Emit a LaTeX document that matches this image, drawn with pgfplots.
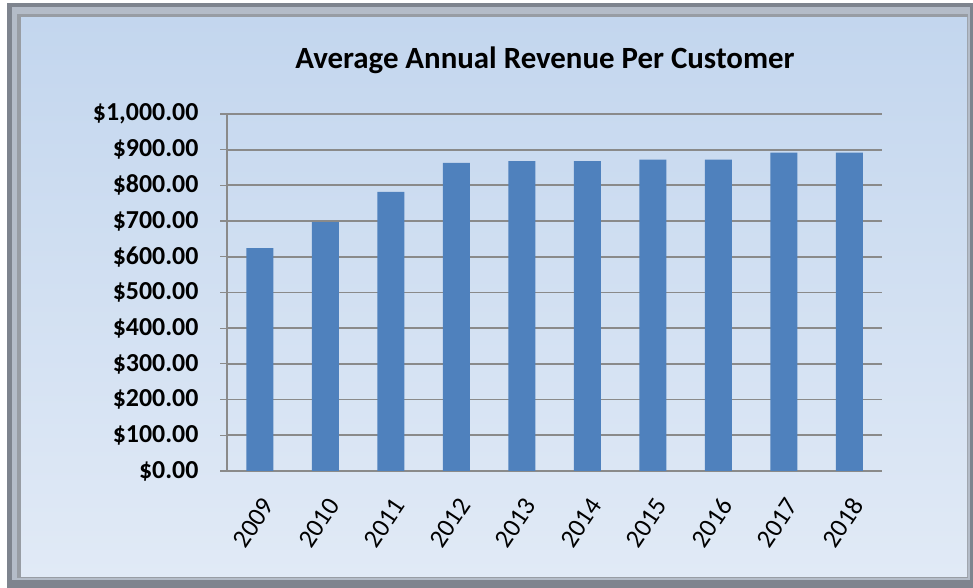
\documentclass[border=0pt]{standalone}
\usepackage{pgfplots}
\pgfplotsset{compat=1.18}
\usepackage{fontspec}
\setmainfont{Carlito}
\definecolor{barblue}{HTML}{4F81BD}
\definecolor{gridgray}{HTML}{8A8A8A}
\definecolor{bgtop}{HTML}{C3D6EE}
\definecolor{bgbot}{HTML}{E1EAF6}
\definecolor{frameout}{HTML}{7E848E}
\definecolor{framein}{HTML}{B4BCC8}

\pgfplotstableread{
x year value
0 2009 624
1 2010 697
2 2011 782
3 2012 863
4 2013 868
5 2014 868
6 2015 872
7 2016 872
8 2017 892
9 2018 892
}\revtable

\begin{document}
\begin{tikzpicture}[x=1bp,y=1bp]
% frame and background
\fill[white] (0,0) rectangle (973,588);
\fill[frameout] (7,0) rectangle (973,585);
\fill[framein] (12,8) rectangle (970,581);
\fill[frameout!80] (17,10) rectangle (968,574);
\shade[top color=bgtop, bottom color=bgbot] (21,11) rectangle (967,570);
\node[font=\bfseries\fontsize{31}{31}\selectfont] at (545,528) {Average Annual Revenue Per Customer};
\begin{axis}[
  at={(227bp,117bp)}, anchor=south west,
  scale only axis, width=655bp, height=357bp,
  xmin=-0.5, xmax=9.5, ymin=0, ymax=1000,
  axis lines*=left,
  axis line style={gridgray, line width=1.2bp},
  ymajorgrids, grid style={gridgray, line width=1.8bp},
  ytick={0,100,...,1000},
  yticklabels={\$0.00,\$100.00,\$200.00,\$300.00,\$400.00,\$500.00,\$600.00,\$700.00,\$800.00,\$900.00,\$1{,}000.00},
  xtick={0,...,9},
  xticklabels={2009,2010,2011,2012,2013,2014,2015,2016,2017,2018},
  xtick style={draw=none},
  minor xtick={-0.5,0.5,...,9.5},
  tick align=outside,
  major tick length=7bp, minor tick length=8bp,
  tick style={gridgray, line width=1.2bp},
  /pgf/number format/assume math mode=true,
  yticklabel style={font=\bfseries\fontsize{26}{26}\selectfont, xshift=-18bp},
  xticklabel style={font=\fontsize{26}{26}\selectfont, rotate=56, anchor=east, yshift=-20bp, xshift=-11bp},
  clip=false,
]
\addplot[ybar, bar width=27bp, fill=barblue, draw=none] table[x=x, y=value] {\revtable};
\end{axis}
\end{tikzpicture}
\end{document}
